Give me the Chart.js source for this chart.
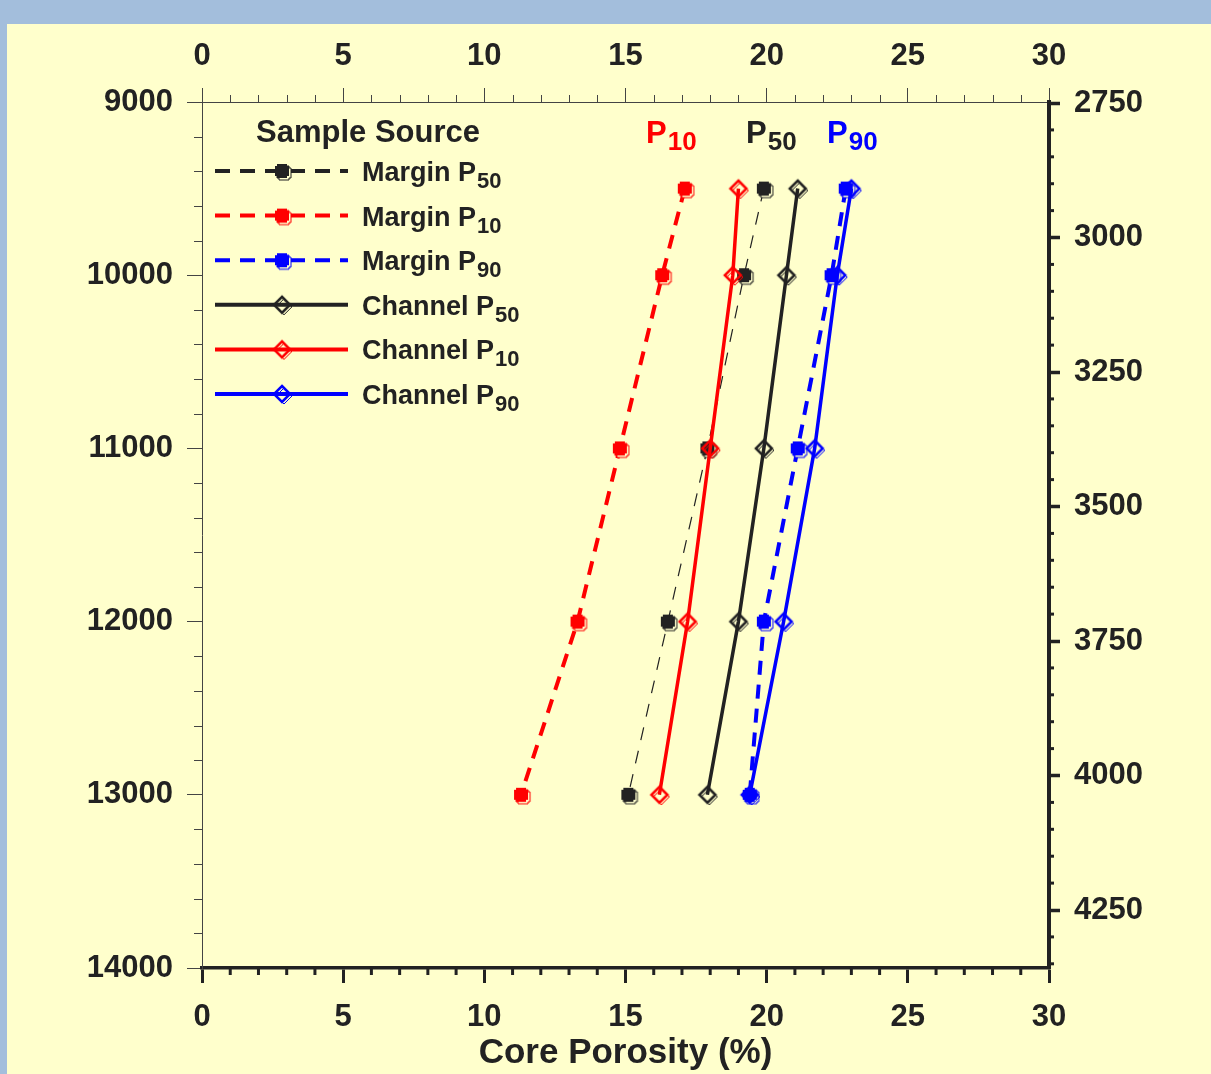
<!DOCTYPE html>
<html>
<head>
<meta charset="utf-8">
<script src="https://cdn.jsdelivr.net/npm/chart.js@4.4.1/dist/chart.umd.min.js"></script>
<style>
  html, body { margin: 0; padding: 0; background: #a3bedc; width: 1211px; height: 1074px; overflow: hidden; }
  #panel { position: absolute; left: 7px; top: 24px; width: 1204px; height: 1050px; background: #ffffcc; }
  canvas { display: block; }
</style>
</head>
<body>
<div id="panel"><canvas id="porosityChart" width="1204" height="1050"></canvas></div>
<script>
const ctx = document.getElementById('porosityChart').getContext('2d');

// depth of each sample group (ft)
const depthsFt = [9500, 10000, 11000, 12000, 13000];

// core porosity (%)
const marginP50 = [19.9, 19.2, 17.9, 16.5, 15.1];
const marginP10 = [17.1, 16.3, 14.8, 13.3, 11.3];
const marginP90 = [22.8, 22.3, 21.1, 19.9, 19.4];
const channelP50 = [21.1, 20.7, 19.9, 19.0, 17.9];
const channelP10 = [19.0, 18.8, 18.0, 17.2, 16.2];
const channelP90 = [23.0, 22.5, 21.7, 20.6, 19.4];

// axis ticks
const porosityTicks = [0, 5, 10, 15, 20, 25, 30];
const depthFtTicks = [9000, 10000, 11000, 12000, 13000, 14000];
const depthMTicks = [2750, 3000, 3250, 3500, 3750, 4000, 4250];

const RED = '#ff0000';
const BLUE = '#0000ff';
const BLACK = '#222222';
const FONT = "'Liberation Sans', Arial, sans-serif";

// marker shapes, with the small offset outline of the original
function marginMarker(color) {
    const c = document.createElement('canvas');
    c.width = 28; c.height = 28;
    const g = c.getContext('2d');
    const blob = (cx, cy) => {
        const s = 7, n = 2;
        g.beginPath();
        g.moveTo(cx - s + n, cy - s);
        g.lineTo(cx + s - n, cy - s);
        g.lineTo(cx + s - n, cy - s + n);
        g.lineTo(cx + s, cy - s + n);
        g.lineTo(cx + s, cy + s - n);
        g.lineTo(cx + s - n, cy + s - n);
        g.lineTo(cx + s - n, cy + s);
        g.lineTo(cx - s + n, cy + s);
        g.lineTo(cx - s + n, cy + s - n);
        g.lineTo(cx - s, cy + s - n);
        g.lineTo(cx - s, cy - s + n);
        g.lineTo(cx - s + n, cy - s + n);
        g.closePath();
    };
    blob(16, 16);
    g.fillStyle = '#ffffcc';
    g.fill();
    g.strokeStyle = color;
    g.lineWidth = 1;
    g.stroke();
    blob(14, 14);
    g.fillStyle = color;
    g.fill();
    return c;
}

function channelMarker(color) {
    const c = document.createElement('canvas');
    c.width = 28; c.height = 28;
    const g = c.getContext('2d');
    const diamond = (cx, cy, r) => {
        g.beginPath();
        g.moveTo(cx, cy - r);
        g.lineTo(cx + r, cy);
        g.lineTo(cx, cy + r);
        g.lineTo(cx - r, cy);
        g.closePath();
    };
    g.strokeStyle = color;
    g.lineWidth = 1;
    diamond(16, 16, 8);
    g.stroke();
    g.lineWidth = 2.5;
    diamond(14, 14, 8);
    g.stroke();
    return c;
}

const pts = vals => vals.map((v, i) => ({ x: v, y: depthsFt[i] }));

const series = [
    { label: 'Channel P50', data: channelP50, color: BLACK, dash: [], width: 3.5, marker: channelMarker(BLACK) },
    { label: 'Channel P10', data: channelP10, color: RED, dash: [], width: 3.5, marker: channelMarker(RED) },
    { label: 'Channel P90', data: channelP90, color: BLUE, dash: [], width: 3.5, marker: channelMarker(BLUE) },
    { label: 'Margin P50', data: marginP50, color: BLACK, dash: [13, 11], width: 1.2, marker: marginMarker(BLACK) },
    { label: 'Margin P10', data: marginP10, color: RED, dash: [14, 10], width: 4, marker: marginMarker(RED) },
    { label: 'Margin P90', data: marginP90, color: BLUE, dash: [14, 10], width: 4, marker: marginMarker(BLUE) }
];

// legend rows (drawn inside the plot, as in the original)
const legendRows = [
    { main: 'Margin P', sub: '50', color: BLACK, dash: [15, 10], marker: marginMarker(BLACK) },
    { main: 'Margin P', sub: '10', color: RED, dash: [15, 10], marker: marginMarker(RED) },
    { main: 'Margin P', sub: '90', color: BLUE, dash: [15, 10], marker: marginMarker(BLUE) },
    { main: 'Channel P', sub: '50', color: BLACK, dash: [], marker: channelMarker(BLACK) },
    { main: 'Channel P', sub: '10', color: RED, dash: [], marker: channelMarker(RED) },
    { main: 'Channel P', sub: '90', color: BLUE, dash: [], marker: channelMarker(BLUE) }
];

const topLabels = [
    { sub: '10', color: RED, x: 639 },
    { sub: '50', color: BLACK, x: 739 },
    { sub: '90', color: BLUE, x: 820 }
];

// minor tick marks on all four axes
const minorTicks = {
    id: 'minorTicks',
    afterDraw(chart) {
        const g = chart.ctx;
        const a = chart.chartArea;
        const { x, x2, y, y2 } = chart.scales;
        g.save();
        // top: thin, every 1 %
        g.strokeStyle = '#444'; g.lineWidth = 1;
        for (let v = 1; v < 30; v++) {
            if (v % 5 === 0) continue;
            const px = Math.round(x2.getPixelForValue(v)) + 0.5;
            g.beginPath(); g.moveTo(px, a.top); g.lineTo(px, a.top - 7); g.stroke();
        }
        // left: thin, every 200 ft
        for (let v = 9200; v < 14000; v += 200) {
            if (v % 1000 === 0) continue;
            const py = Math.round(y.getPixelForValue(v)) + 0.5;
            g.beginPath(); g.moveTo(a.left, py); g.lineTo(a.left - 8, py); g.stroke();
        }
        // bottom: thick, every 1 %
        g.strokeStyle = BLACK; g.lineWidth = 3;
        for (let v = 1; v < 30; v++) {
            if (v % 5 === 0) continue;
            const px = x.getPixelForValue(v);
            g.beginPath(); g.moveTo(px, a.bottom); g.lineTo(px, a.bottom + 7); g.stroke();
        }
        // right: thick, every 50 m
        for (let v = 2800; v < 4360; v += 50) {
            if ((v - 2750) % 250 === 0) continue;
            const py = y2.getPixelForValue(v);
            g.beginPath(); g.moveTo(a.right, py); g.lineTo(a.right + 5, py); g.stroke();
        }
        g.restore();
    }
};

function subText(g, main, sub, x, baseline, mainSize, subSize, color, subDrop) {
    g.fillStyle = color;
    g.font = `bold ${mainSize}px ${FONT}`;
    g.textAlign = 'left';
    g.textBaseline = 'alphabetic';
    g.fillText(main, x, baseline);
    const w = g.measureText(main).width;
    g.font = `bold ${subSize}px ${FONT}`;
    g.fillText(sub, x + w + 1, baseline + subDrop);
}

const insideLegend = {
    id: 'insideLegend',
    afterDatasetsDraw(chart) {
        const g = chart.ctx;
        g.save();
        g.fillStyle = BLACK;
        g.font = `bold 31px ${FONT}`;
        g.textAlign = 'center';
        g.textBaseline = 'middle';
        g.fillText('Sample Source', 361, 109);

        legendRows.forEach((r, i) => {
            const ly = 147 + i * 44.6;
            g.strokeStyle = r.color;
            g.lineWidth = 4;
            g.setLineDash(r.dash);
            g.beginPath(); g.moveTo(208, ly); g.lineTo(341, ly); g.stroke();
            g.setLineDash([]);
            g.drawImage(r.marker, 275 - 14, ly - 14);
            subText(g, r.main, r.sub, 355, ly + 10, 27, 22, BLACK, 7);
        });

        topLabels.forEach(t => {
            subText(g, 'P', t.sub, t.x, 119, 31, 26, t.color, 7);
        });
        g.restore();
    }
};

const tickFont = { family: FONT, size: 31, weight: 'bold' };

new Chart(ctx, {
    type: 'scatter',
    data: {
        datasets: series.map(s => ({
            label: s.label,
            data: pts(s.data),
            showLine: true,
            borderColor: s.color,
            backgroundColor: s.color,
            borderWidth: s.width,
            borderDash: s.dash,
            pointStyle: s.marker,
            pointRadius: 8,
            pointHoverRadius: 8,
            tension: 0,
            xAxisID: 'x',
            yAxisID: 'y'
        }))
    },
    options: {
        responsive: false,
        animation: false,
        events: [],
        layout: { padding: 0 },
        plugins: {
            legend: { display: false },
            tooltip: { enabled: false }
        },
        scales: {
            x: {
                type: 'linear',
                position: 'bottom',
                min: 0,
                max: 30,
                afterBuildTicks: s => { s.ticks = porosityTicks.map(v => ({ value: v })); },
                afterFit: s => { s.height = 106; },
                ticks: { color: BLACK, font: tickFont, padding: 16, maxRotation: 0 },
                grid: { drawOnChartArea: false, tickLength: 15, tickWidth: 3, tickColor: BLACK },
                border: { display: true, width: 3.5, color: BLACK },
                title: {
                    display: true,
                    text: 'Core Porosity (%)',
                    color: BLACK,
                    font: { family: FONT, size: 35, weight: 'bold' },
                    padding: { top: 0, bottom: 0 }
                }
            },
            x2: {
                type: 'linear',
                position: 'top',
                min: 0,
                max: 30,
                afterBuildTicks: s => { s.ticks = porosityTicks.map(v => ({ value: v })); },
                afterFit: s => { s.height = 78; },
                ticks: { color: BLACK, font: tickFont, padding: 13, maxRotation: 0 },
                grid: { drawOnChartArea: false, tickLength: 14, tickWidth: 1, tickColor: '#444' },
                border: { display: true, width: 1, color: '#444' }
            },
            y: {
                type: 'linear',
                position: 'left',
                reverse: true,
                min: 9000,
                max: 14000,
                afterBuildTicks: s => { s.ticks = depthFtTicks.map(v => ({ value: v })); },
                afterFit: s => { s.width = 195; },
                ticks: { color: BLACK, font: tickFont, padding: 14, callback: v => String(v) },
                grid: { drawOnChartArea: false, tickLength: 15, tickWidth: 1, tickColor: '#444' },
                border: { display: true, width: 1, color: '#444' }
            },
            y2: {
                type: 'linear',
                position: 'right',
                reverse: true,
                min: 2748.1,
                max: 4357.8,
                afterBuildTicks: s => { s.ticks = depthMTicks.map(v => ({ value: v })); },
                afterFit: s => { s.width = 162; },
                ticks: { color: BLACK, font: tickFont, padding: 14, callback: v => String(v) },
                grid: { drawOnChartArea: false, tickLength: 11, tickWidth: 3.5, tickColor: BLACK },
                border: { display: true, width: 4, color: BLACK }
            }
        }
    },
    plugins: [minorTicks, insideLegend]
});
</script>
</body>
</html>
